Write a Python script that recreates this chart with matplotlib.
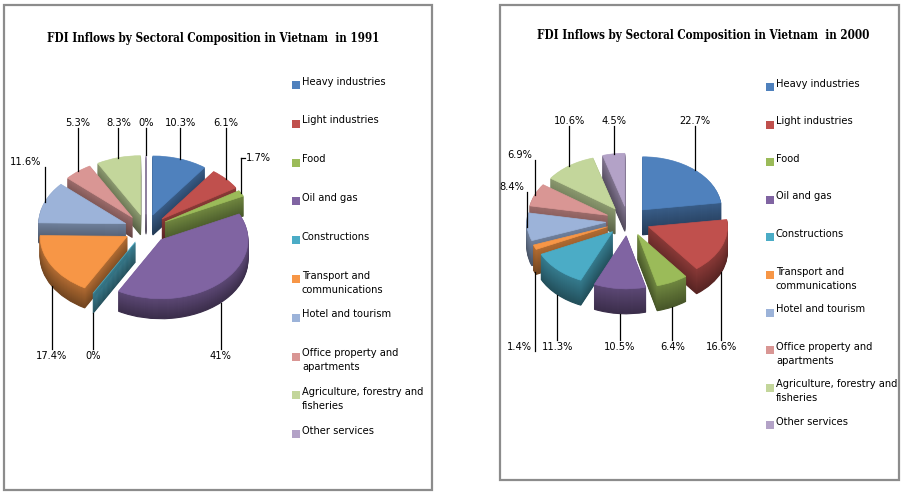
import os
import matplotlib
matplotlib.use("Agg")
import matplotlib.pyplot as plt
import matplotlib.colors as mcolors
from matplotlib import font_manager
from matplotlib.font_manager import FontProperties
import numpy as np

# ---------------- data ----------------
categories = ['Heavy industries', 'Light industries', 'Food', 'Oil and gas', 'Constructions',
              'Transport and\ncommunications', 'Hotel and tourism',
              'Office property and\napartments', 'Agriculture, forestry and\nfisheries',
              'Other services']
values_1991 = [10.3, 6.1, 1.7, 41, 0, 17.4, 11.6, 5.3, 8.3, 0]
values_2000 = [22.7, 16.6, 6.4, 10.5, 11.3, 1.4, 8.4, 6.9, 10.6, 4.5]
colors = ['#4F81BD', '#C0504D', '#9BBB59', '#8064A2', '#4BACC6',
          '#F79646', '#9CB3D9', '#D99694', '#C3D69B', '#B3A2C7']
title_1991 = 'FDI Inflows by Sectoral Composition in Vietnam  in 1991'
title_2000 = 'FDI Inflows by Sectoral Composition in Vietnam  in 2000'

W, H = 904, 498


def find_font(names):
    files = {os.path.basename(f.fname): f.fname for f in font_manager.fontManager.ttflist}
    for n in names:
        if n in files:
            return FontProperties(fname=files[n])
    return None


sans_fp = find_font(['LiberationSansNarrow-Regular.ttf', 'DejaVuSansCondensed.ttf',
                     'RobotoCondensed-Regular.ttf', 'OpenSans-CondensedRegular.ttf'])
if sans_fp is None:
    sans_fp = FontProperties(family='Lato')
serif_fp = find_font(['DejaVuSerifCondensed-Bold.ttf', 'LiberationSerif-Bold.ttf'])
if serif_fp is None:
    serif_fp = FontProperties(family='Liberation Serif', weight='bold')

fig = plt.figure(figsize=(W / 100, H / 100), dpi=100)
fig.patch.set_facecolor('white')
renderer = fig.canvas.get_renderer()


def fit_size(text, fp, target_px, base=10.0):
    t = fig.text(0, 0, text, fontproperties=fp, fontsize=base)
    w = t.get_window_extent(renderer).width
    t.remove()
    return base * target_px / w


SANS_SIZE = min(fit_size('Heavy industries', sans_fp, 83), 10.5)
TITLE_SIZE = min(fit_size(title_1991, serif_fp, 336), 11.5)

bg = fig.add_axes([0, 0, 1, 1])
bg.set_xlim(0, W)
bg.set_ylim(H, 0)
bg.set_axis_off()

# panel borders
for (x0, y0, x1, y1) in [(4, 5, 432, 490), (500, 5, 899, 480)]:
    bg.add_patch(plt.Rectangle((x0, y0), x1 - x0, y1 - y0, fill=False,
                               edgecolor='#8C8C8C', linewidth=1.6))

# titles
bg.text(213, 38, title_1991, ha='center', va='center', fontsize=TITLE_SIZE,
        fontproperties=serif_fp)
bg.text(703, 35, title_2000, ha='center', va='center', fontsize=TITLE_SIZE,
        fontproperties=serif_fp)


def legend(x_marker, y_start, step):
    for i, (cat, col) in enumerate(zip(categories, colors)):
        y = y_start + i * step
        bg.scatter([x_marker], [y], marker='s', s=28, color=col, linewidths=0)
        bg.text(x_marker + 6, y - 8.5, cat, ha='left', va='top', fontsize=SANS_SIZE,
                fontproperties=sans_fp, linespacing=1.5)


legend(296, 85, 38.8)
legend(770, 87, 37.6)


def darken(c, f):
    r, g, b = mcolors.to_rgb(c)
    return (r * f, g * f, b * f)


def fill_edges(wedges):
    for w in wedges:
        w.set_edgecolor(w.get_facecolor())


def draw_pie(values, cx, cy, sx, sy, explode, thick):
    ax = fig.add_axes([0, 0, 1, 1])
    ax.set_axis_off()
    n = len(values)
    ex = [explode] * n
    t = thick / sy
    nl = int(thick)
    for k in range(nl, 0, -1):
        d = t * k / nl
        f = 0.72 - 0.26 * (k / nl)
        dark = [darken(c, f) for c in colors]
        ws, _ = ax.pie(values, explode=ex, colors=dark, startangle=90, counterclock=False,
                       center=(0, -d), wedgeprops=dict(linewidth=0.8))
        fill_edges(ws)
    wedges, _ = ax.pie(values, explode=ex, colors=colors, startangle=90,
                       counterclock=False, wedgeprops=dict(linewidth=0.5))
    fill_edges(wedges)
    ax.set_aspect('auto')
    ax.set_xlim(-cx / sx, (W - cx) / sx)
    ax.set_ylim((cy - H) / sy, cy / sy)

    top_y = (1 + explode) + 27 / sy          # bottom of top labels
    bot_y = -(1 + explode) - t - 33 / sy     # centre of bottom labels
    kw = dict(fontsize=SANS_SIZE, fontproperties=sans_fp)
    for w, v in zip(wedges, values):
        ang = np.deg2rad((w.theta1 + w.theta2) / 2)
        ecx, ecy = w.center
        xe = ecx + w.r * np.cos(ang)
        ye = ecy + w.r * np.sin(ang)
        c, s = np.cos(ang), np.sin(ang)
        txt = f'{v:g}%'
        if s > -0.2:
            if abs(c) > 0.85:
                ty = ye + 35 / sy
                ax.plot([xe, xe], [ye, ty], color='black', lw=0.9)
                if c > 0:
                    ax.plot([xe, xe + 4 / sx], [ty, ty], color='black', lw=0.9)
                    ax.text(xe + 5 / sx, ty, txt, ha='left', va='center', **kw)
                else:
                    ax.text(xe - 3 / sx, ty, txt, ha='right', va='bottom', **kw)
            else:
                ax.plot([xe, xe], [ye, top_y], color='black', lw=0.9)
                ax.text(xe, top_y, txt, ha='center', va='bottom', **kw)
        else:
            yb = ye - t
            if abs(c) > 0.9 and c < 0:
                ax.plot([xe, xe], [yb, bot_y - 4 / sy], color='black', lw=0.9)
                ax.text(xe - 3 / sx, bot_y, txt, ha='right', va='center', **kw)
            else:
                ax.plot([xe, xe], [yb, bot_y + 7 / sy], color='black', lw=0.9)
                ax.text(xe, bot_y, txt, ha='center', va='center', **kw)


draw_pie(values_1991, 146, 229, 87, 59, 0.25, 20)
draw_pie(values_2000, 628, 221, 79, 53, 0.28, 25)

fig.savefig('out.png', dpi=100, facecolor='white')
